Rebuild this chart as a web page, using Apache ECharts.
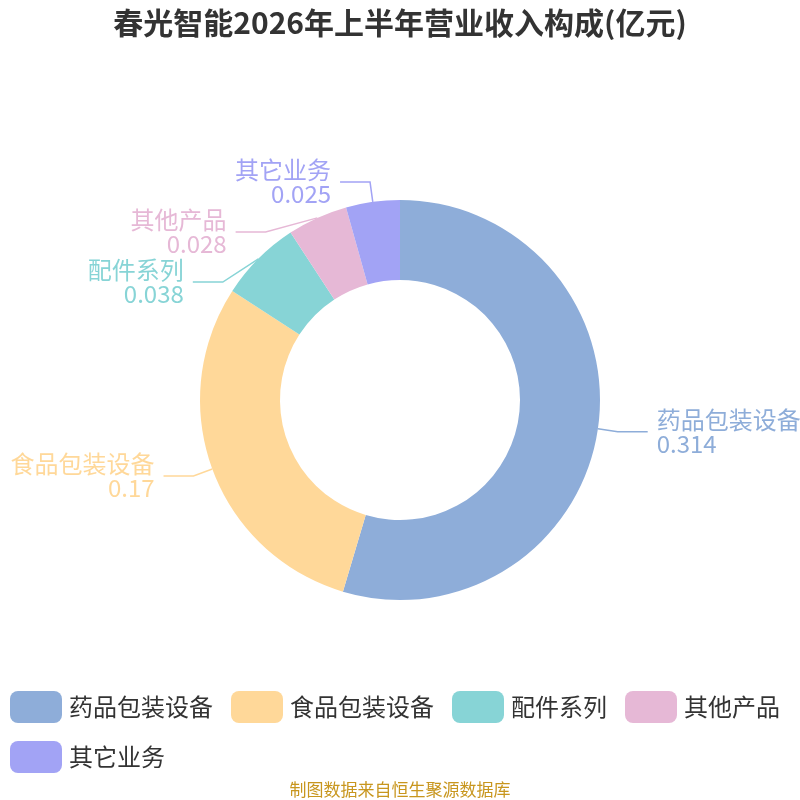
<!DOCTYPE html>
<html>
<head>
<meta charset="utf-8">
<script src="https://cdn.jsdelivr.net/npm/echarts@6/dist/echarts.min.js"></script>
<style>
  html, body { margin: 0; padding: 0; background: #fff; }
  #main { width: 800px; height: 800px; }
</style>
</head>
<body>
<div id="main"></div>
<script>
// 数据
var categories = ['药品包装设备', '食品包装设备', '配件系列', '其他产品', '其它业务'];
var values = [0.314, 0.17, 0.038, 0.028, 0.025];
var colors = ['#8eadd9', '#ffd899', '#87d4d6', '#e6b8d6', '#a2a3f5'];

(function () {
    var myChart = echarts.init(document.getElementById('main'));
    var font = '"Noto Sans CJK SC", "Noto Sans", sans-serif';
    var data = categories.map(function (name, i) {
        return { name: name, value: values[i] };
    });
    var option = {
        color: colors,
        title: {
            text: '春光智能2026年上半年营业收入构成(亿元)',
            left: 'center',
            top: 3,
            textStyle: { fontSize: 30, fontWeight: 'bold', color: '#333', fontFamily: font }
        },
        legend: {
            bottom: 22,
            left: 5,
            right: 0,
            itemWidth: 52,
            itemHeight: 32,
            itemGap: 18,
            icon: 'roundRect',
            textStyle: { fontSize: 24, color: '#333', fontFamily: font, padding: [0, 0, 0, 2] },
            data: categories
        },
        graphic: [{
            type: 'text',
            left: 'center',
            bottom: 2,
            style: { text: '制图数据来自恒生聚源数据库', fill: '#c8961e', fontSize: 17, fontFamily: font }
        }],
        series: [{
            type: 'pie',
            center: ['50%', '50%'],
            radius: ['30%', '50%'],
            startAngle: 90,
            label: {
                formatter: '{b}\n{c}',
                fontSize: 24,
                lineHeight: 24,
                fontFamily: font,
                color: 'inherit',
                overflow: 'none',
                distanceToLabelLine: 9
            },
            labelLine: { length: 20, length2: 30, lineStyle: { width: 1.5 } },
            data: data
        }]
    };
    myChart.setOption(option);
})();
</script>
</body>
</html>
